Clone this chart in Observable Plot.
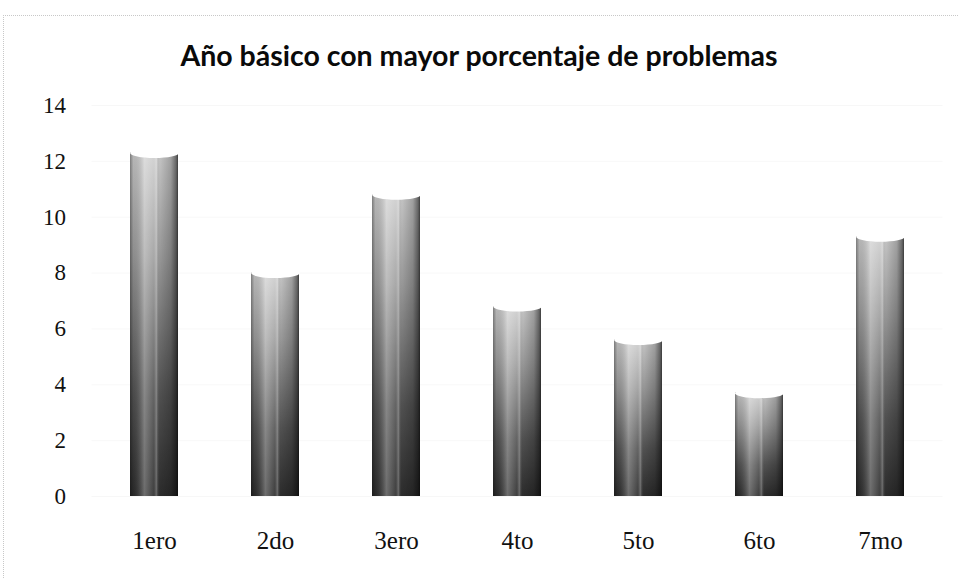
<!DOCTYPE html>
<html>
<head>
<meta charset="utf-8">
<script src="https://cdn.jsdelivr.net/npm/d3@7"></script>
<script src="https://cdn.jsdelivr.net/npm/@observablehq/plot@0.6"></script>
<style>
  html, body { margin: 0; padding: 0; background: #fff; }
  #wrap { position: relative; width: 958px; height: 578px; overflow: hidden; }
  #frame { position: absolute; left: 3px; top: 15px; width: 960px; height: 570px;
           border-top: 1px dotted #c8c8c8; border-left: 1px dotted #c8c8c8; }
  #title { position: absolute; left: 0; top: 38px; width: 958px; text-align: center;
           font-family: Lato, "Open Sans", sans-serif; font-weight: bold; font-size: 28.5px; color: #0a0a0a; }
  #chart { position: absolute; left: 0; top: 0; }
</style>
</head>
<body>
<div id="wrap">
  <div id="frame"></div>
  <div id="chart"></div>
  <div id="title">Año básico con mayor porcentaje de problemas</div>
</div>
<script>
const categories = ["1ero", "2do", "3ero", "4to", "5to", "6to", "7mo"];
const values = [12.3, 8.0, 10.8, 6.8, 5.6, 3.7, 9.3];
const yTicks = [0, 2, 4, 6, 8, 10, 12, 14];

const data = categories.map((c, i) => ({cat: c, value: values[i]}));

// elliptical cylinder top (concave look)
const ellipseTop = {
  draw(ctx) {
    const rx = 24.3, ry = 5, k = 0.5523;
    ctx.moveTo(rx, 0);
    ctx.bezierCurveTo(rx, k * ry, k * rx, ry, 0, ry);
    ctx.bezierCurveTo(-k * rx, ry, -rx, k * ry, -rx, 0);
    ctx.bezierCurveTo(-rx, -k * ry, -k * rx, -ry, 0, -ry);
    ctx.bezierCurveTo(k * rx, -ry, rx, -k * ry, rx, 0);
    ctx.closePath();
  }
};

const svg = Plot.plot({
  width: 958,
  height: 578,
  marginTop: 105,
  marginBottom: 82,
  marginLeft: 91.5,
  marginRight: 15.5,
  style: {fontFamily: "'Liberation Serif', 'DejaVu Serif', serif", fontSize: "23px", color: "#111", background: "transparent"},
  x: {domain: categories, paddingInner: 0.6, paddingOuter: 0.3, label: null},
  y: {domain: [0, 14], label: null},
  marks: [
    Plot.gridY(yTicks, {stroke: "#000", strokeOpacity: 0.03}),
    Plot.barY(data, {x: "cat", y: "value", fill: "url(#cylV)"}),
    Plot.barY(data, {x: "cat", y: "value", fill: "url(#cylH)"}),
    Plot.dot(data, {x: "cat", y: "value", symbol: ellipseTop, fill: "white", stroke: "none"}),
    Plot.axisY(yTicks, {tickSize: 0, tickPadding: 26, label: null, fill: "#111", fontSize: 23}),
    Plot.axisX({tickSize: 0, tickPadding: 35, label: null, fill: "#111", fontSize: 25})
  ]
});

const defs = d3.select(svg).insert("defs", ":first-child");
const gv = defs.append("linearGradient").attr("id", "cylV")
  .attr("x1", 0).attr("y1", 0).attr("x2", 0).attr("y2", 1);
[[0, "#d0d0d0"], [0.3, "#a0a0a0"], [0.7, "#555"], [1, "#2e2e2e"]]
  .forEach(([o, c]) => gv.append("stop").attr("offset", o).attr("stop-color", c));
const gh = defs.append("linearGradient").attr("id", "cylH")
  .attr("x1", 0).attr("y1", 0).attr("x2", 1).attr("y2", 0);
[[0, "#000", 0.4], [0.07, "#000", 0.12], [0.3, "#fff", 0.3], [0.5, "#fff", 0.08],
 [0.55, "#fff", 0.28], [0.62, "#000", 0.05], [0.85, "#000", 0.22], [0.96, "#000", 0.5], [1, "#000", 0.7]]
  .forEach(([o, c, a]) => gh.append("stop").attr("offset", o).attr("stop-color", c).attr("stop-opacity", a));

document.getElementById("chart").appendChild(svg);
</script>
</body>
</html>
